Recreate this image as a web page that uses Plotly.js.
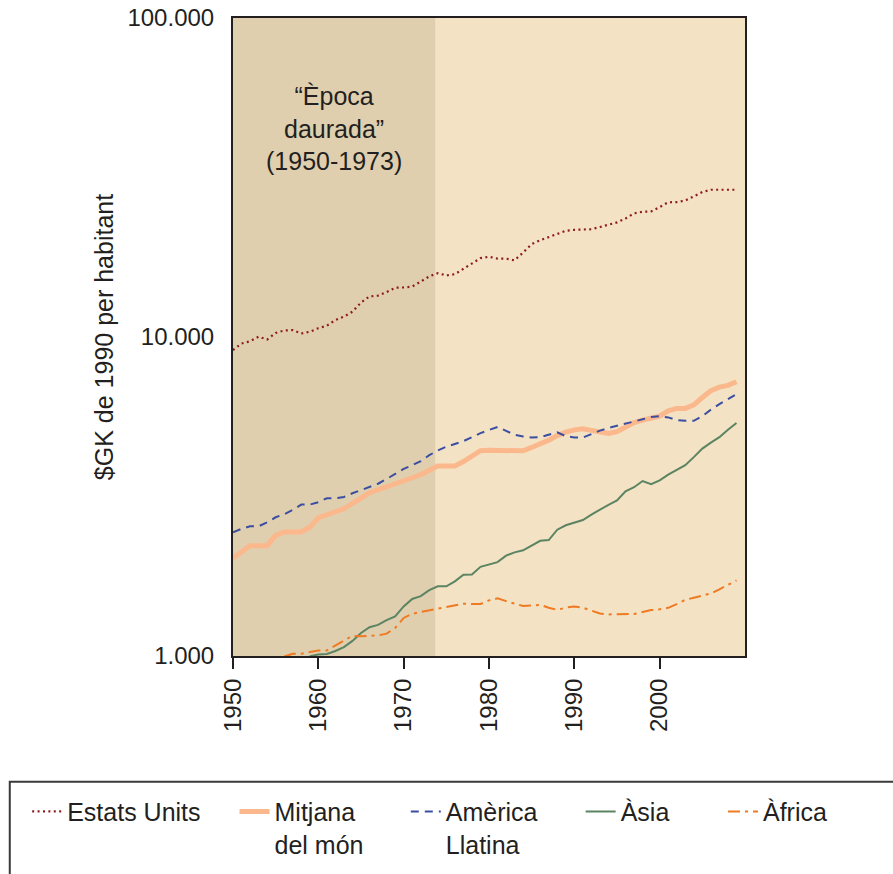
<!DOCTYPE html>
<html>
<head>
<meta charset="utf-8">
<script src="https://cdn.plot.ly/plotly-3.0.1.min.js"></script>
<style>html,body{margin:0;padding:0;background:#fff;}#chart{width:893px;height:874px;}</style>
</head>
<body>
<div id="chart"></div>
<script>
// ---- Data (1990 Geary-Khamis dollars per capita) ----
const yearsAll = [1950,1951,1952,1953,1954,1955,1956,1957,1958,1959,1960,1961,1962,1963,1964,1965,1966,1967,1968,1969,1970,1971,1972,1973,1974,1975,1976,1977,1978,1979,1980,1981,1982,1983,1984,1985,1986,1987,1988,1989,1990,1991,1992,1993,1994,1995,1996,1997,1998,1999,2000,2001,2002,2003,2004,2005,2006,2007,2008,2009];

const usa = [9104,9541,9700,10021,9821,10294,10481,10519,10256,10390,10656,10851,11307,11581,12006,12823,13405,13482,13828,14265,14305,14388,14917,15488,15849,15600,15736,16351,17017,17667,17855,17600,17600,17387,18408,19545,20107,20606,21058,21520,21677,21677,21767,22115,22470,22866,23517,24420,24689,24758,25540,26445,26482,26790,27595,28468,28945,28945,28945,28945];

const world = [2028,2121,2215,2217,2217,2389,2447,2447,2447,2532,2713,2772,2822,2894,3012,3134,3249,3320,3393,3467,3538,3613,3698,3822,3943,3943,3943,4070,4229,4400,4413,4406,4400,4397,4397,4506,4611,4750,4907,5035,5116,5157,5098,5039,4981,5047,5217,5390,5488,5552,5649,5866,5972,5972,6125,6462,6787,6966,7052,7240];

const latam = [2442,2504,2550,2550,2625,2722,2782,2870,2983,2983,3034,3123,3123,3151,3237,3308,3386,3467,3587,3714,3859,3963,4080,4260,4411,4530,4613,4715,4853,4996,5112,5224,5079,4938,4880,4845,4855,4945,5025,4888,4842,4842,4977,5086,5187,5263,5336,5418,5520,5612,5645,5597,5492,5460,5460,5649,5921,6161,6386,6622];

const asiaYears = [1959,1960,1961,1962,1963,1964,1965,1966,1967,1968,1969,1970,1971,1972,1973,1974,1975,1976,1977,1978,1979,1980,1981,1982,1983,1984,1985,1986,1987,1988,1989,1990,1991,1992,1993,1994,1995,1996,1997,1998,1999,2000,2001,2002,2003,2004,2005,2006,2007,2008,2009];
const asia = [998,1011,1015,1037,1066,1115,1181,1231,1252,1295,1330,1430,1509,1540,1609,1653,1653,1714,1799,1801,1903,1938,1969,2064,2113,2144,2215,2297,2309,2488,2569,2621,2668,2776,2882,2979,3073,3285,3381,3535,3455,3551,3703,3840,3963,4201,4468,4665,4853,5121,5378];

const africaYears = [1956,1957,1958,1959,1960,1961,1962,1963,1964,1965,1966,1967,1968,1969,1970,1971,1972,1973,1974,1975,1976,1977,1978,1979,1980,1981,1982,1983,1984,1985,1986,1987,1988,1989,1990,1991,1992,1993,1994,1995,1996,1997,1998,1999,2000,2001,2002,2003,2004,2005,2006,2007,2008,2009];
const africa = [996,1016,1016,1026,1041,1041,1079,1122,1157,1154,1154,1160,1175,1224,1316,1356,1375,1391,1408,1424,1446,1458,1455,1456,1494,1516,1486,1459,1434,1440,1447,1416,1395,1418,1430,1417,1387,1359,1350,1350,1350,1354,1374,1393,1401,1416,1455,1500,1523,1546,1570,1618,1671,1725];

const seriesNames = ["Estats Units","Mitjana<br>del món","Amèrica<br>Llatina","Àsia","Àfrica"];
const xTicks = [1950,1960,1970,1980,1990,2000];
const xTickText = ["1950","1960","1970","1980","1990","2000"];
const yTicks = [1000,10000,100000];
const yTickText = ["1.000","10.000","100.000"];
const goldenAge = [1950, 1973.7];
const annotationText = "“Època<br>daurada”<br>(1950-1973)";
const yTitle = "$GK de 1990 per habitant";

// ---- Styling ----
const FONT = "Arial, 'Liberation Sans', Helvetica, sans-serif";
const INK = "#231F20";

const traces = [
  {x: yearsAll, y: usa, name: seriesNames[0], mode: "lines", legend: "legend",
   line: {color: "#8E1B22", width: 2.2, dash: "2px,3.4px"}},
  {x: yearsAll, y: world, name: seriesNames[1], mode: "lines", legend: "legend2",
   line: {color: "#FBB88C", width: 5}},
  {x: yearsAll, y: latam, name: seriesNames[2], mode: "lines", legend: "legend3",
   line: {color: "#3B4EA2", width: 2, dash: "8px,6px"}},
  {x: asiaYears, y: asia, name: seriesNames[3], mode: "lines", legend: "legend4",
   line: {color: "#5B8463", width: 2}},
  {x: africaYears, y: africa, name: seriesNames[4], mode: "lines", legend: "legend5",
   line: {color: "#F07A22", width: 2, dash: "12px,5px,3px,5px"}}
];

function legendAt(xp) {
  return {x: xp, y: -0.208, xanchor: "left", yanchor: "top", orientation: "v",
    bgcolor: "rgba(0,0,0,0)", borderwidth: 0, valign: "top",
    font: {family: FONT, size: 25, color: INK}, itemwidth: 30};
}

const layout = {
  width: 893, height: 874,
  margin: {l: 233, r: 148, t: 18, b: 218, pad: 0, autoexpand: false},
  paper_bgcolor: "#ffffff",
  plot_bgcolor: "#F4E2C4",
  font: {family: FONT, color: INK},
  showlegend: true,
  legend: legendAt(-0.402),
  legend2: legendAt(0.003),
  legend3: legendAt(0.3375),
  legend4: legendAt(0.679),
  legend5: legendAt(0.957),
  xaxis: {
    range: [1950, 2010], tickvals: xTicks, ticktext: xTickText, tickangle: -90,
    ticks: "outside", ticklen: 11, tickwidth: 2, tickcolor: INK,
    showline: true, linecolor: INK, linewidth: 2, mirror: true,
    showgrid: false, zeroline: false, automargin: false,
    tickfont: {family: FONT, size: 24, color: INK}
  },
  yaxis: {
    type: "log", range: [3, 5], tickvals: yTicks, ticktext: yTickText,
    ticks: "", ticklabelstandoff: 12,
    showline: true, linecolor: INK, linewidth: 2, mirror: true,
    showgrid: false, zeroline: false, automargin: false,
    tickfont: {family: FONT, size: 24, color: INK},
    title: {text: yTitle, font: {family: FONT, size: 25, color: INK}, standoff: 7}
  },
  shapes: [
    {type: "rect", xref: "x", yref: "paper", x0: goldenAge[0], x1: goldenAge[1], y0: 0, y1: 1,
     fillcolor: "#E0CFAF", line: {width: 0}, layer: "below"},
    {type: "line", xref: "paper", yref: "y", x0: 0, x1: 1, y0: 4, y1: 4,
     line: {color: INK, width: 2}, layer: "above"},
    {type: "rect", xref: "paper", yref: "paper", x0: -0.436, x1: 1.4, y0: -0.197, y1: -0.5,
     line: {color: "#3a3a3a", width: 2}, fillcolor: "rgba(0,0,0,0)"}
  ],
  annotations: [
    {text: annotationText, xref: "x", yref: "paper", x: (goldenAge[0] + goldenAge[1]) / 2, y: 0.827,
     xanchor: "center", yanchor: "middle", showarrow: false, align: "center",
     font: {family: FONT, size: 25, color: INK}}
  ]
};

Plotly.newPlot("chart", traces, layout, {staticPlot: true, displayModeBar: false});
</script>
</body>
</html>
